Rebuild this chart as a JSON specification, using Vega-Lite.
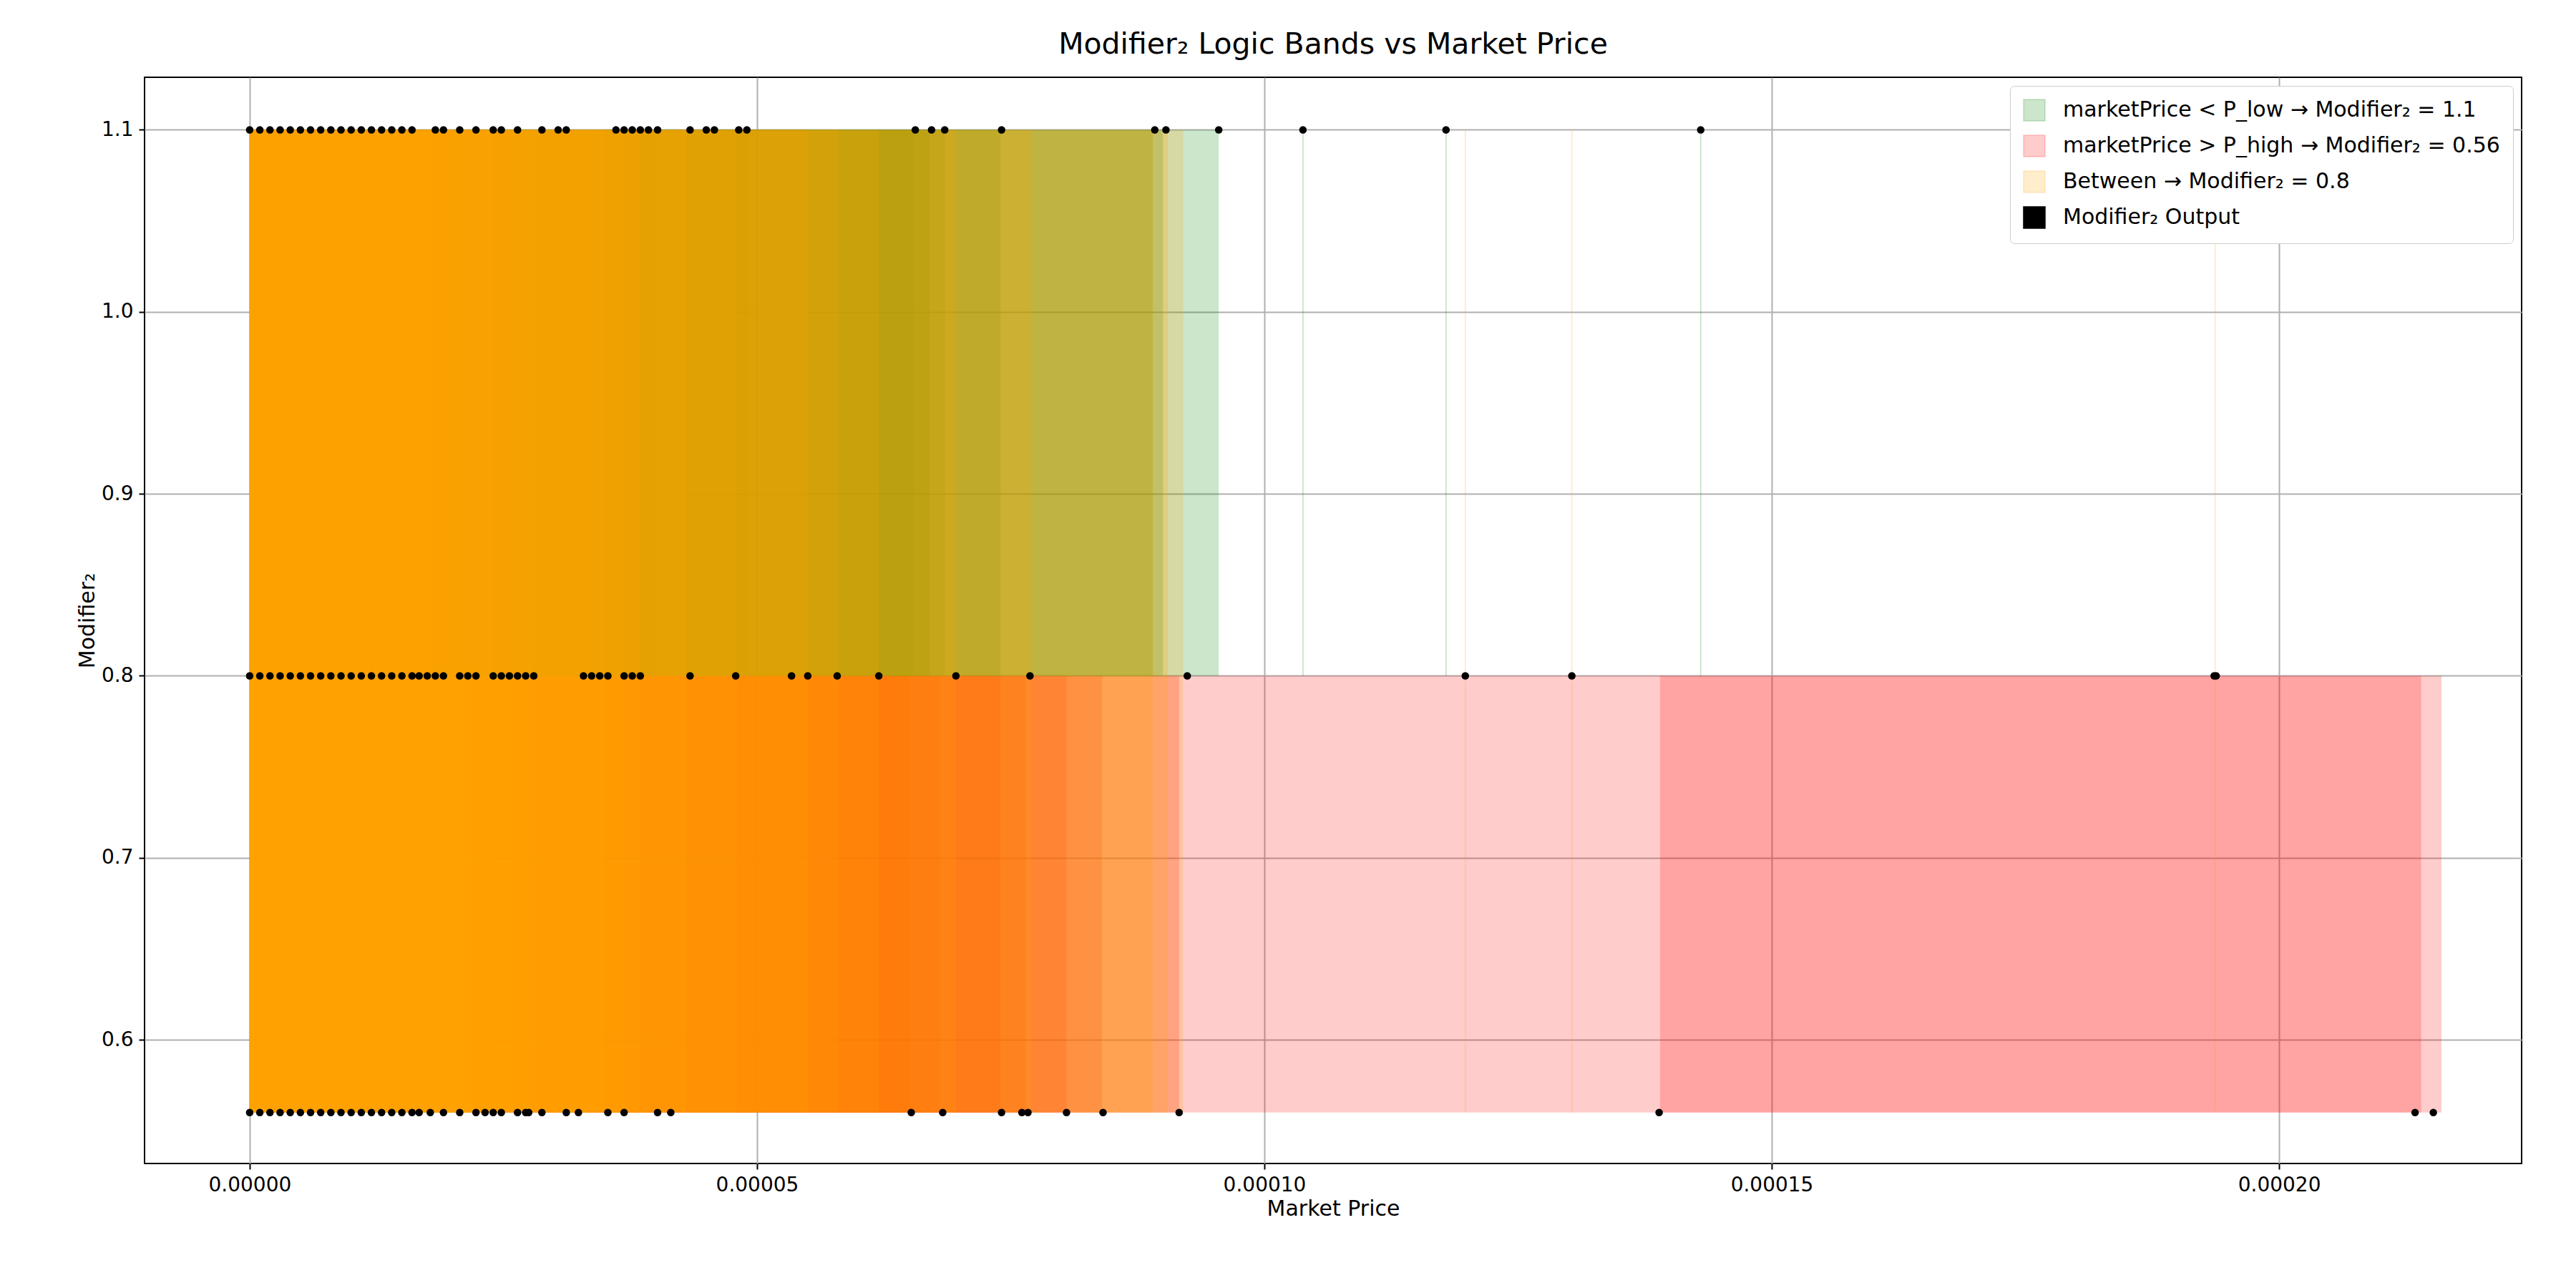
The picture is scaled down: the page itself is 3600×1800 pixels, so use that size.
{
  "$schema": "https://vega.github.io/schema/vega-lite/v6.json",
  "autosize": "none",
  "width": 3322,
  "height": 1518,
  "padding": {"left": 202, "top": 108, "right": 76, "bottom": 174},
  "background": "white",
  "title": {"text": "Modifier₂ Logic Bands vs Market Price", "fontSize": 41, "fontWeight": "normal", "font": "DejaVu Sans", "offset": 24, "color": "black"},
  "config": {
    "font": "DejaVu Sans",
    "view": {"stroke": "black", "strokeWidth": 2},
    "axis": {"labelFontSize": 28, "titleFontSize": 30, "titleFontWeight": "normal", "labelColor": "black", "titleColor": "black", "domain": false, "tickColor": "black", "tickSize": 8, "tickWidth": 2, "gridColor": "#b0b0b0", "gridWidth": 2, "labelPadding": 8}
  },
  "datasets": {
    "bands": [
      {"band": "marketPrice > P_high → Modifier₂ = 0.56", "x0": 0, "x1": 2.16e-4, "y0": 0.56, "y1": 0.8},
      {"band": "marketPrice > P_high → Modifier₂ = 0.56", "x0": 1.39e-4, "x1": 2.14e-4, "y0": 0.56, "y1": 0.8},
      {"band": "marketPrice > P_high → Modifier₂ = 0.56", "x0": 0, "x1": 9.16e-5, "y0": 0.56, "y1": 0.8},
      {"band": "marketPrice > P_high → Modifier₂ = 0.56", "x0": 0, "x1": 8.4e-5, "y0": 0.56, "y1": 0.8},
      {"band": "marketPrice > P_high → Modifier₂ = 0.56", "x0": 0, "x1": 8.05e-5, "y0": 0.56, "y1": 0.8},
      {"band": "marketPrice > P_high → Modifier₂ = 0.56", "x0": 0, "x1": 7.65e-5, "y0": 0.56, "y1": 0.8},
      {"band": "marketPrice > P_high → Modifier₂ = 0.56", "x0": 0, "x1": 7.4e-5, "y0": 0.56, "y1": 0.8},
      {"band": "marketPrice > P_high → Modifier₂ = 0.56", "x0": 0, "x1": 6.8e-5, "y0": 0.56, "y1": 0.8},
      {"band": "marketPrice > P_high → Modifier₂ = 0.56", "x0": 0, "x1": 6.5e-5, "y0": 0.56, "y1": 0.8},
      {"band": "marketPrice < P_low → Modifier₂ = 1.1", "x0": 0, "x1": 9.55e-5, "y0": 0.8, "y1": 1.1},
      {"band": "marketPrice < P_low → Modifier₂ = 1.1", "x0": 0, "x1": 9.0e-5, "y0": 0.8, "y1": 1.1},
      {"band": "marketPrice < P_low → Modifier₂ = 1.1", "x0": 0, "x1": 8.9e-5, "y0": 0.8, "y1": 1.1},
      {"band": "marketPrice < P_low → Modifier₂ = 1.1", "x0": 0, "x1": 7.4e-5, "y0": 0.8, "y1": 1.1},
      {"band": "marketPrice < P_low → Modifier₂ = 1.1", "x0": 0, "x1": 6.85e-5, "y0": 0.8, "y1": 1.1},
      {"band": "marketPrice < P_low → Modifier₂ = 1.1", "x0": 0, "x1": 6.7e-5, "y0": 0.8, "y1": 1.1},
      {"band": "marketPrice < P_low → Modifier₂ = 1.1", "x0": 0, "x1": 6.55e-5, "y0": 0.8, "y1": 1.1},
      {"band": "marketPrice < P_low → Modifier₂ = 1.1", "x0": 0, "x1": 4.9e-5, "y0": 0.8, "y1": 1.1},
      {"band": "marketPrice < P_low → Modifier₂ = 1.1", "x0": 0, "x1": 4.0e-5, "y0": 0.8, "y1": 1.1},
      {"band": "Between → Modifier₂ = 0.8", "x0": 0, "x1": 9.2e-5, "y0": 0.56, "y1": 1.1},
      {"band": "Between → Modifier₂ = 0.8", "x0": 0, "x1": 9.05e-5, "y0": 0.56, "y1": 1.1},
      {"band": "Between → Modifier₂ = 0.8", "x0": 0, "x1": 8.9e-5, "y0": 0.56, "y1": 1.1},
      {"band": "Between → Modifier₂ = 0.8", "x0": 0, "x1": 7.7e-5, "y0": 0.56, "y1": 1.1},
      {"band": "Between → Modifier₂ = 0.8", "x0": 0, "x1": 6.96e-5, "y0": 0.56, "y1": 1.1},
      {"band": "Between → Modifier₂ = 0.8", "x0": 0, "x1": 6.2e-5, "y0": 0.56, "y1": 1.1},
      {"band": "Between → Modifier₂ = 0.8", "x0": 0, "x1": 5.8e-5, "y0": 0.56, "y1": 1.1},
      {"band": "Between → Modifier₂ = 0.8", "x0": 0, "x1": 5.5e-5, "y0": 0.56, "y1": 1.1},
      {"band": "Between → Modifier₂ = 0.8", "x0": 0, "x1": 4.8e-5, "y0": 0.56, "y1": 1.1},
      {"band": "Between → Modifier₂ = 0.8", "x0": 0, "x1": 4.3e-5, "y0": 0.56, "y1": 1.1},
      {"band": "Between → Modifier₂ = 0.8", "x0": 0, "x1": 3.85e-5, "y0": 0.56, "y1": 1.1},
      {"band": "Between → Modifier₂ = 0.8", "x0": 0, "x1": 3.7e-5, "y0": 0.56, "y1": 1.1},
      {"band": "Between → Modifier₂ = 0.8", "x0": 0, "x1": 3.5e-5, "y0": 0.56, "y1": 1.1},
      {"band": "Between → Modifier₂ = 0.8", "x0": 0, "x1": 3.3e-5, "y0": 0.56, "y1": 1.1},
      {"band": "Between → Modifier₂ = 0.8", "x0": 0, "x1": 2.8e-5, "y0": 0.56, "y1": 1.1},
      {"band": "Between → Modifier₂ = 0.8", "x0": 0, "x1": 2.6e-5, "y0": 0.56, "y1": 1.1},
      {"band": "Between → Modifier₂ = 0.8", "x0": 0, "x1": 2.4e-5, "y0": 0.56, "y1": 1.1},
      {"band": "Between → Modifier₂ = 0.8", "x0": 0, "x1": 2.2e-5, "y0": 0.56, "y1": 1.1},
      {"band": "Between → Modifier₂ = 0.8", "x0": 0, "x1": 2.0e-5, "y0": 0.56, "y1": 1.1},
      {"band": "Between → Modifier₂ = 0.8", "x0": 0, "x1": 1.8e-5, "y0": 0.56, "y1": 1.1},
      {"band": "Between → Modifier₂ = 0.8", "x0": 0, "x1": 1.6e-5, "y0": 0.56, "y1": 1.1},
      {"band": "Between → Modifier₂ = 0.8", "x0": 0, "x1": 1.4e-5, "y0": 0.56, "y1": 1.1},
      {"band": "Between → Modifier₂ = 0.8", "x0": 0, "x1": 1.2e-5, "y0": 0.56, "y1": 1.1},
      {"band": "Between → Modifier₂ = 0.8", "x0": 0, "x1": 1.0e-5, "y0": 0.56, "y1": 1.1},
      {"band": "Between → Modifier₂ = 0.8", "x0": 0, "x1": 8e-6, "y0": 0.56, "y1": 1.1},
      {"band": "Between → Modifier₂ = 0.8", "x0": 0, "x1": 6e-6, "y0": 0.56, "y1": 1.1},
      {"band": "Between → Modifier₂ = 0.8", "x0": 0, "x1": 4e-6, "y0": 0.56, "y1": 1.1},
      {"band": "Between → Modifier₂ = 0.8", "x0": 0, "x1": 2e-6, "y0": 0.56, "y1": 1.1}
    ],
    "lines": [
      {"band": "marketPrice < P_low → Modifier₂ = 1.1", "x": 1.038e-4, "y0": 0.8, "y1": 1.1},
      {"band": "marketPrice < P_low → Modifier₂ = 1.1", "x": 1.179e-4, "y0": 0.8, "y1": 1.1},
      {"band": "marketPrice < P_low → Modifier₂ = 1.1", "x": 1.43e-4, "y0": 0.8, "y1": 1.1},
      {"band": "Between → Modifier₂ = 0.8", "x": 1.198e-4, "y0": 0.56, "y1": 1.1},
      {"band": "Between → Modifier₂ = 0.8", "x": 1.303e-4, "y0": 0.56, "y1": 1.1},
      {"band": "Between → Modifier₂ = 0.8", "x": 1.937e-4, "y0": 0.56, "y1": 1.1}
    ],
    "points": [
      {"x": 0, "y": 1.1}, {"x": 1e-6, "y": 1.1}, {"x": 2e-6, "y": 1.1}, {"x": 3e-6, "y": 1.1}, {"x": 4e-6, "y": 1.1}, {"x": 5e-6, "y": 1.1}, {"x": 6e-6, "y": 1.1}, {"x": 7e-6, "y": 1.1}, {"x": 8e-6, "y": 1.1}, {"x": 9e-6, "y": 1.1}, {"x": 1.0e-5, "y": 1.1}, {"x": 1.1e-5, "y": 1.1}, {"x": 1.2e-5, "y": 1.1}, {"x": 1.3e-5, "y": 1.1}, {"x": 1.4e-5, "y": 1.1}, {"x": 1.5e-5, "y": 1.1}, {"x": 1.6e-5, "y": 1.1},
      {"x": 1.83e-5, "y": 1.1}, {"x": 1.91e-5, "y": 1.1}, {"x": 2.07e-5, "y": 1.1}, {"x": 2.23e-5, "y": 1.1}, {"x": 2.40e-5, "y": 1.1}, {"x": 2.48e-5, "y": 1.1}, {"x": 2.64e-5, "y": 1.1}, {"x": 2.88e-5, "y": 1.1}, {"x": 3.04e-5, "y": 1.1}, {"x": 3.12e-5, "y": 1.1}, {"x": 3.61e-5, "y": 1.1}, {"x": 3.69e-5, "y": 1.1}, {"x": 3.77e-5, "y": 1.1}, {"x": 3.85e-5, "y": 1.1}, {"x": 3.93e-5, "y": 1.1}, {"x": 4.02e-5, "y": 1.1}, {"x": 4.34e-5, "y": 1.1}, {"x": 4.50e-5, "y": 1.1}, {"x": 4.58e-5, "y": 1.1}, {"x": 4.82e-5, "y": 1.1}, {"x": 4.90e-5, "y": 1.1}, {"x": 6.56e-5, "y": 1.1}, {"x": 6.72e-5, "y": 1.1}, {"x": 6.85e-5, "y": 1.1}, {"x": 7.41e-5, "y": 1.1}, {"x": 8.92e-5, "y": 1.1}, {"x": 9.03e-5, "y": 1.1}, {"x": 9.55e-5, "y": 1.1}, {"x": 1.038e-4, "y": 1.1}, {"x": 1.179e-4, "y": 1.1}, {"x": 1.43e-4, "y": 1.1},
      {"x": 0, "y": 0.8}, {"x": 1e-6, "y": 0.8}, {"x": 2e-6, "y": 0.8}, {"x": 3e-6, "y": 0.8}, {"x": 4e-6, "y": 0.8}, {"x": 5e-6, "y": 0.8}, {"x": 6e-6, "y": 0.8}, {"x": 7e-6, "y": 0.8}, {"x": 8e-6, "y": 0.8}, {"x": 9e-6, "y": 0.8}, {"x": 1.0e-5, "y": 0.8}, {"x": 1.1e-5, "y": 0.8}, {"x": 1.2e-5, "y": 0.8}, {"x": 1.3e-5, "y": 0.8}, {"x": 1.4e-5, "y": 0.8}, {"x": 1.5e-5, "y": 0.8}, {"x": 1.6e-5, "y": 0.8},
      {"x": 1.67e-5, "y": 0.8}, {"x": 1.75e-5, "y": 0.8}, {"x": 1.83e-5, "y": 0.8}, {"x": 1.91e-5, "y": 0.8}, {"x": 2.07e-5, "y": 0.8}, {"x": 2.15e-5, "y": 0.8}, {"x": 2.23e-5, "y": 0.8}, {"x": 2.40e-5, "y": 0.8}, {"x": 2.48e-5, "y": 0.8}, {"x": 2.56e-5, "y": 0.8}, {"x": 2.64e-5, "y": 0.8}, {"x": 2.72e-5, "y": 0.8}, {"x": 2.80e-5, "y": 0.8}, {"x": 3.29e-5, "y": 0.8}, {"x": 3.37e-5, "y": 0.8}, {"x": 3.45e-5, "y": 0.8}, {"x": 3.53e-5, "y": 0.8}, {"x": 3.69e-5, "y": 0.8}, {"x": 3.77e-5, "y": 0.8}, {"x": 3.85e-5, "y": 0.8}, {"x": 4.34e-5, "y": 0.8}, {"x": 4.79e-5, "y": 0.8}, {"x": 5.34e-5, "y": 0.8}, {"x": 5.50e-5, "y": 0.8}, {"x": 5.79e-5, "y": 0.8}, {"x": 6.20e-5, "y": 0.8}, {"x": 6.96e-5, "y": 0.8}, {"x": 7.69e-5, "y": 0.8}, {"x": 9.24e-5, "y": 0.8}, {"x": 1.198e-4, "y": 0.8}, {"x": 1.303e-4, "y": 0.8}, {"x": 1.936e-4, "y": 0.8}, {"x": 1.938e-4, "y": 0.8},
      {"x": 0, "y": 0.56}, {"x": 1e-6, "y": 0.56}, {"x": 2e-6, "y": 0.56}, {"x": 3e-6, "y": 0.56}, {"x": 4e-6, "y": 0.56}, {"x": 5e-6, "y": 0.56}, {"x": 6e-6, "y": 0.56}, {"x": 7e-6, "y": 0.56}, {"x": 8e-6, "y": 0.56}, {"x": 9e-6, "y": 0.56}, {"x": 1.0e-5, "y": 0.56}, {"x": 1.1e-5, "y": 0.56}, {"x": 1.2e-5, "y": 0.56}, {"x": 1.3e-5, "y": 0.56}, {"x": 1.4e-5, "y": 0.56}, {"x": 1.5e-5, "y": 0.56}, {"x": 1.6e-5, "y": 0.56},
      {"x": 1.67e-5, "y": 0.56}, {"x": 1.78e-5, "y": 0.56}, {"x": 1.91e-5, "y": 0.56}, {"x": 2.07e-5, "y": 0.56}, {"x": 2.23e-5, "y": 0.56}, {"x": 2.32e-5, "y": 0.56}, {"x": 2.40e-5, "y": 0.56}, {"x": 2.48e-5, "y": 0.56}, {"x": 2.64e-5, "y": 0.56}, {"x": 2.72e-5, "y": 0.56}, {"x": 2.75e-5, "y": 0.56}, {"x": 2.88e-5, "y": 0.56}, {"x": 3.12e-5, "y": 0.56}, {"x": 3.24e-5, "y": 0.56}, {"x": 3.53e-5, "y": 0.56}, {"x": 3.69e-5, "y": 0.56}, {"x": 4.02e-5, "y": 0.56}, {"x": 4.15e-5, "y": 0.56}, {"x": 6.52e-5, "y": 0.56}, {"x": 6.83e-5, "y": 0.56}, {"x": 7.41e-5, "y": 0.56}, {"x": 7.61e-5, "y": 0.56}, {"x": 7.67e-5, "y": 0.56}, {"x": 8.05e-5, "y": 0.56}, {"x": 8.41e-5, "y": 0.56}, {"x": 9.16e-5, "y": 0.56}, {"x": 1.389e-4, "y": 0.56}, {"x": 2.134e-4, "y": 0.56}, {"x": 2.152e-4, "y": 0.56}
    ]
  },
  "layer": [
    {
      "data": {"name": "bands"},
      "mark": {"type": "rect"},
      "encoding": {
        "x": {"field": "x0", "type": "quantitative", "scale": {"domain": [-1.036e-5, 2.239e-4], "nice": false, "zero": false}, "axis": {"title": "Market Price", "values": [0, 5e-5, 1e-4, 1.5e-4, 2e-4], "format": ".5f", "grid": true}},
        "x2": {"field": "x1"},
        "y": {"field": "y0", "type": "quantitative", "scale": {"domain": [0.532, 1.1289], "nice": false, "zero": false}, "axis": {"title": "Modifier₂", "values": [0.6, 0.7, 0.8, 0.9, 1.0, 1.1], "format": ".1f", "grid": true}},
        "y2": {"field": "y1"},
        "color": {"field": "band", "type": "nominal", "scale": {"domain": ["marketPrice < P_low → Modifier₂ = 1.1", "marketPrice > P_high → Modifier₂ = 0.56", "Between → Modifier₂ = 0.8", "Modifier₂ Output"], "range": ["rgba(0,128,0,0.2)", "rgba(255,0,0,0.2)", "rgba(255,165,0,0.2)", "black"]},
          "legend": {"title": null, "orient": "top-right", "offset": 12, "labelFontSize": 30, "labelColor": "black", "symbolType": "square", "symbolSize": 900, "rowPadding": 14, "padding": 18, "fillColor": "white", "strokeColor": "#cccccc", "cornerRadius": 6, "labelLimit": 1200, "labelOffset": 24}}
      }
    },
    {
      "data": {"name": "lines"},
      "mark": {"type": "rule", "strokeWidth": 2},
      "encoding": {
        "x": {"field": "x", "type": "quantitative"},
        "y": {"field": "y0", "type": "quantitative"},
        "y2": {"field": "y1"},
        "color": {"field": "band", "type": "nominal"}
      }
    },
    {
      "data": {"name": "points"},
      "transform": [{"calculate": "'Modifier₂ Output'", "as": "band"}],
      "mark": {"type": "circle", "size": 110, "opacity": 1},
      "encoding": {
        "x": {"field": "x", "type": "quantitative"},
        "y": {"field": "y", "type": "quantitative"},
        "color": {"field": "band", "type": "nominal"}
      }
    }
  ]
}
